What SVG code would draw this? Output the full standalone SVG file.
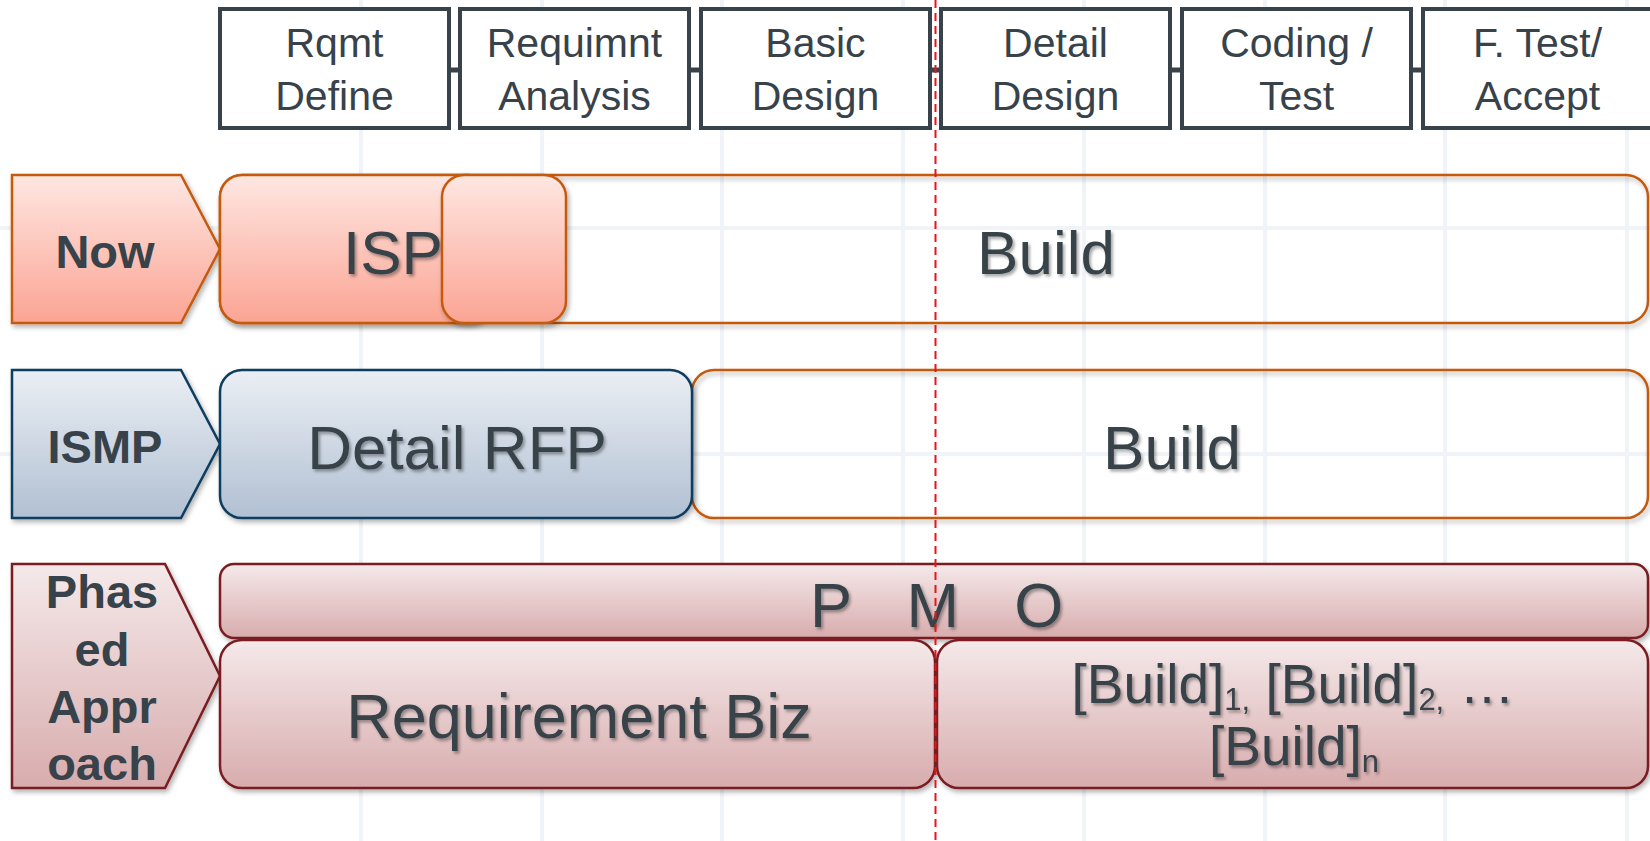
<svg xmlns="http://www.w3.org/2000/svg" width="1650" height="841" viewBox="0 0 1650 841">
<style>
.hdr{fill:#fff;stroke:#37424a;stroke-width:4}
.ht{font-family:"Liberation Sans",Arial,sans-serif;font-size:41px;fill:#37424a;text-anchor:middle}
.big{font-family:"Liberation Sans",Arial,sans-serif;font-size:62px;fill:#37424a;text-anchor:middle;filter:url(#ts)}
.tag{font-family:"Liberation Sans",Arial,sans-serif;font-size:47px;font-weight:bold;fill:#37424a;text-anchor:middle}
.now{fill:url(#gNow);stroke:#c55a11;stroke-width:2.5;filter:url(#ds)}
.bld{fill:none;stroke:#c55a11;stroke-width:2.5;filter:url(#ds)}
.ism{fill:url(#gIsmp);stroke:#0e3c5e;stroke-width:2.5;filter:url(#ds)}
.pha{fill:url(#gPha);stroke:#7a1f22;stroke-width:2.5;filter:url(#ds)}
.grid{stroke:#f0f3f7;stroke-width:4}
.tick{stroke:#37424a;stroke-width:5}
</style>
<defs>
<linearGradient id="gNow" x1="0" y1="0" x2="0" y2="1"><stop offset="0" stop-color="#fee7e2"/><stop offset="1" stop-color="#fba493"/></linearGradient>
<linearGradient id="gIsmp" x1="0" y1="0" x2="0" y2="1"><stop offset="0" stop-color="#ebeff4"/><stop offset="1" stop-color="#b1c0d3"/></linearGradient>
<linearGradient id="gPha" x1="0" y1="0" x2="0" y2="1"><stop offset="0" stop-color="#f5e9ea"/><stop offset="1" stop-color="#d8acad"/></linearGradient>
<filter id="ds" x="-5%" y="-10%" width="110%" height="125%"><feDropShadow dx="2" dy="3" stdDeviation="2.5" flood-color="#000" flood-opacity="0.3"/></filter>
<filter id="ts" x="-10%" y="-20%" width="120%" height="140%"><feDropShadow dx="2" dy="2.5" stdDeviation="1.5" flood-color="#000" flood-opacity="0.35"/></filter>
</defs>
<rect width="1650" height="841" fill="#fff"/>
<g id="background-grid">
<line class="grid" x1="361" y1="0" x2="361" y2="841"/>
<line class="grid" x1="542" y1="0" x2="542" y2="841"/>
<line class="grid" x1="722" y1="0" x2="722" y2="841"/>
<line class="grid" x1="903" y1="0" x2="903" y2="841"/>
<line class="grid" x1="1084" y1="0" x2="1084" y2="841"/>
<line class="grid" x1="1265" y1="0" x2="1265" y2="841"/>
<line class="grid" x1="1445" y1="0" x2="1445" y2="841"/>
<line class="grid" x1="1627" y1="0" x2="1627" y2="841"/>
<line class="grid" x1="0" y1="228" x2="1650" y2="228"/>
<line class="grid" x1="0" y1="454" x2="1650" y2="454"/>
</g>
<g id="connectors">
<line class="tick" x1="449" y1="70" x2="462" y2="70"/>
<line class="tick" x1="689" y1="70" x2="702" y2="70"/>
<line class="tick" x1="930" y1="70" x2="943" y2="70"/>
<line class="tick" x1="1170" y1="70" x2="1183" y2="70"/>
<line class="tick" x1="1411" y1="70" x2="1424" y2="70"/>
</g>
<g id="phase-rqmt-define"><rect class="hdr" x="220" y="9" width="229" height="119"/><text class="ht"><tspan x="334.5" y="57">Rqmt</tspan><tspan x="334.5" y="110">Define</tspan></text></g>
<g id="phase-requimnt-analysis"><rect class="hdr" x="460" y="9" width="229" height="119"/><text class="ht"><tspan x="574.5" y="57">Requimnt</tspan><tspan x="574.5" y="110">Analysis</tspan></text></g>
<g id="phase-basic-design"><rect class="hdr" x="701" y="9" width="229" height="119"/><text class="ht"><tspan x="815.5" y="57">Basic</tspan><tspan x="815.5" y="110">Design</tspan></text></g>
<g id="phase-detail-design"><rect class="hdr" x="941" y="9" width="229" height="119"/><text class="ht"><tspan x="1055.5" y="57">Detail</tspan><tspan x="1055.5" y="110">Design</tspan></text></g>
<g id="phase-coding-test"><rect class="hdr" x="1182" y="9" width="229" height="119"/><text class="ht"><tspan x="1296.5" y="57">Coding /</tspan><tspan x="1296.5" y="110">Test</tspan></text></g>
<g id="phase-ftest-accept"><rect class="hdr" x="1423" y="9" width="229" height="119"/><text class="ht"><tspan x="1537.5" y="57">F. Test/</tspan><tspan x="1537.5" y="110">Accept</tspan></text></g>

<g id="row-now-label"><polygon class="now" points="12,175 181,175 220,249 181,323 12,323"/><text class="tag" x="105" y="268">Now</text></g>
<g id="row-now-build"><rect class="bld" x="220" y="175" width="1428" height="148" rx="22"/><text class="big" x="1046" y="274">Build</text></g>
<g id="row-now-isp"><rect class="now" x="220" y="175" width="270" height="148" rx="22"/><text class="big" x="393" y="274">ISP</text></g>
<g id="row-now-overlap"><rect class="now" x="442" y="175" width="124" height="148" rx="22"/></g>

<g id="row-ismp-label"><polygon class="ism" points="12,370 181,370 220,444 181,518 12,518"/><text class="tag" x="105" y="463">ISMP</text></g>
<g id="row-ismp-build"><rect class="bld" x="692" y="370" width="956" height="148" rx="22"/><text class="big" x="1172" y="469">Build</text></g>
<g id="row-ismp-rfp"><rect class="ism" x="220" y="370" width="472" height="148" rx="22"/><text class="big" x="457" y="469">Detail RFP</text></g>

<g id="row-phased-label"><polygon class="pha" points="12,564 165,564 220,676 165,788 12,788"/><text class="tag"><tspan x="102" y="608">Phas</tspan><tspan x="102" y="666">ed</tspan><tspan x="102" y="723">Appr</tspan><tspan x="102" y="780">oach</tspan></text></g>
<g id="row-phased-pmo"><rect class="pha" x="220" y="564" width="1428" height="74" rx="14"/><text class="big" x="810" y="627" style="text-anchor:start;font-size:63px;word-spacing:38px">P M O</text></g>
<g id="row-phased-req"><rect class="pha" x="220" y="640" width="715" height="148" rx="22"/><text class="big" x="579" y="738" style="font-size:63px">Requirement Biz</text></g>
<g id="row-phased-builds"><rect class="pha" x="937" y="640" width="711" height="148" rx="22"/><text class="big" style="font-size:55px"><tspan x="1293" y="703">[Build]</tspan><tspan dy="7" font-size="31">1,</tspan><tspan dy="-7"> [Build]</tspan><tspan dy="7" font-size="31">2,</tspan><tspan dy="-7"> …</tspan></text><text class="big" style="font-size:55px" x="1294" y="765">[Build]<tspan dy="7" font-size="31">n</tspan></text></g>

<g id="cutoff-line"><line x1="935.5" y1="0" x2="935.5" y2="841" stroke="#e8141b" stroke-width="2" stroke-dasharray="8,5"/></g>
</svg>
